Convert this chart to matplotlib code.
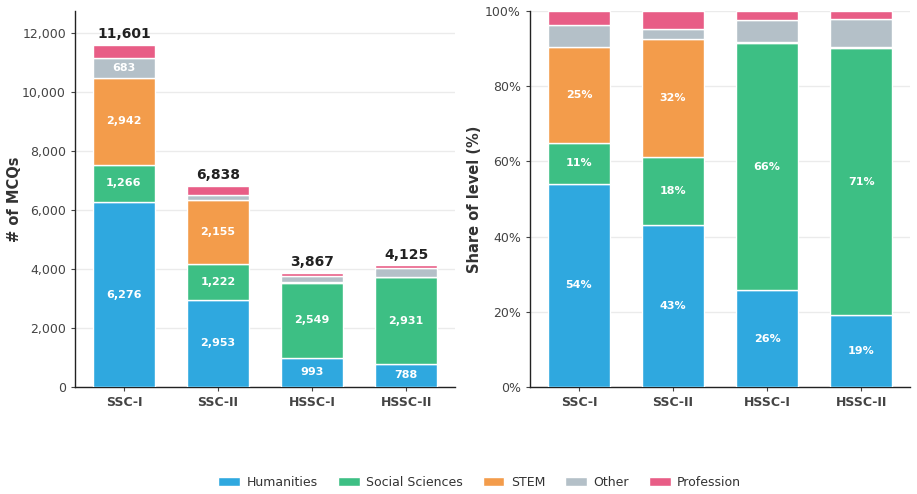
import matplotlib
matplotlib.use("Agg")
import matplotlib.pyplot as plt
import numpy as np
from matplotlib.ticker import FuncFormatter, PercentFormatter

levels = ["SSC-I", "SSC-II", "HSSC-I", "HSSC-II"]
categories = ["Humanities", "Social Sciences", "STEM", "Other", "Profession"]
humanities = [6276, 2953, 993, 788]
social_sciences = [1266, 1222, 2549, 2931]
stem = [2942, 2155, 6, 8]
other = [683, 173, 224, 307]
profession = [434, 335, 95, 91]
colors = ["#2fa8df", "#3dbf84", "#f39c4b", "#b4c0c8", "#e85d86"]

series = [humanities, social_sciences, stem, other, profession]
data = np.array(series, dtype=float)
totals = data.sum(axis=0)
shares = data / totals * 100

fig = plt.figure(figsize=(9.17, 4.94), dpi=100)
ax1 = fig.add_axes([75/917, 107/494, 380/917, 376/494])
ax2 = fig.add_axes([530/917, 107/494, 380/917, 376/494])

x = np.arange(len(levels))
w = 0.66
txt = "#333333"
for ax, vals, pct in ((ax1, data, False), (ax2, shares, True)):
    bottom = np.zeros(len(levels))
    for i, cat in enumerate(categories):
        ax.bar(x, vals[i], w, bottom=bottom, color=colors[i], edgecolor="white",
               linewidth=1, label=cat, zorder=3)
        for j in range(len(levels)):
            v = vals[i][j]
            thr = 8 if pct else 600
            if v >= thr:
                s = f"{v:.0f}%" if pct else f"{int(v):,}"
                ax.text(x[j], bottom[j] + v / 2, s, ha="center", va="center",
                        color="white", fontsize=8, fontweight="bold", zorder=4)
        bottom += vals[i]
    ax.set_xticks(x)
    ax.set_xticklabels(levels, fontweight="bold", fontsize=9, color="#444444")
    ax.tick_params(axis="both", colors="#444444", labelsize=9, length=3)
    ax.yaxis.grid(True, color="#ebebeb", linewidth=1, zorder=0)
    ax.set_axisbelow(True)
    for sp in ("top", "right"):
        ax.spines[sp].set_visible(False)
    for sp in ("left", "bottom"):
        ax.spines[sp].set_color("#222222")
        ax.spines[sp].set_linewidth(1)
    ax.set_xlim(-0.52, 3.52)

for j in range(len(levels)):
    ax1.text(x[j], totals[j] + 130, f"{int(totals[j]):,}", ha="center", va="bottom",
             fontsize=10, fontweight="bold", color="#222222")
ax1.set_ylim(0, totals.max() * 1.1)
ax1.set_yticks(np.arange(0, 12001, 2000))
ax1.yaxis.set_major_formatter(FuncFormatter(lambda v, p: f"{int(v):,}"))
ax1.set_ylabel("# of MCQs", fontsize=10.5, fontweight="bold", color=txt, labelpad=0)

ax2.set_ylim(0, 100)
ax2.set_yticks(np.arange(0, 101, 20))
ax2.yaxis.set_major_formatter(PercentFormatter(decimals=0))
ax2.set_ylabel("Share of level (%)", fontsize=10.5, fontweight="bold", color=txt, labelpad=2)

handles, labels = ax1.get_legend_handles_labels()
fig.legend(handles, labels, loc="center", bbox_to_anchor=(0.523, 0.024), ncol=5,
           frameon=False, fontsize=9, handlelength=1.75, handleheight=0.75,
           handletextpad=0.5, columnspacing=1.6, labelcolor="#333333")

fig.savefig("out.png", dpi=100)
